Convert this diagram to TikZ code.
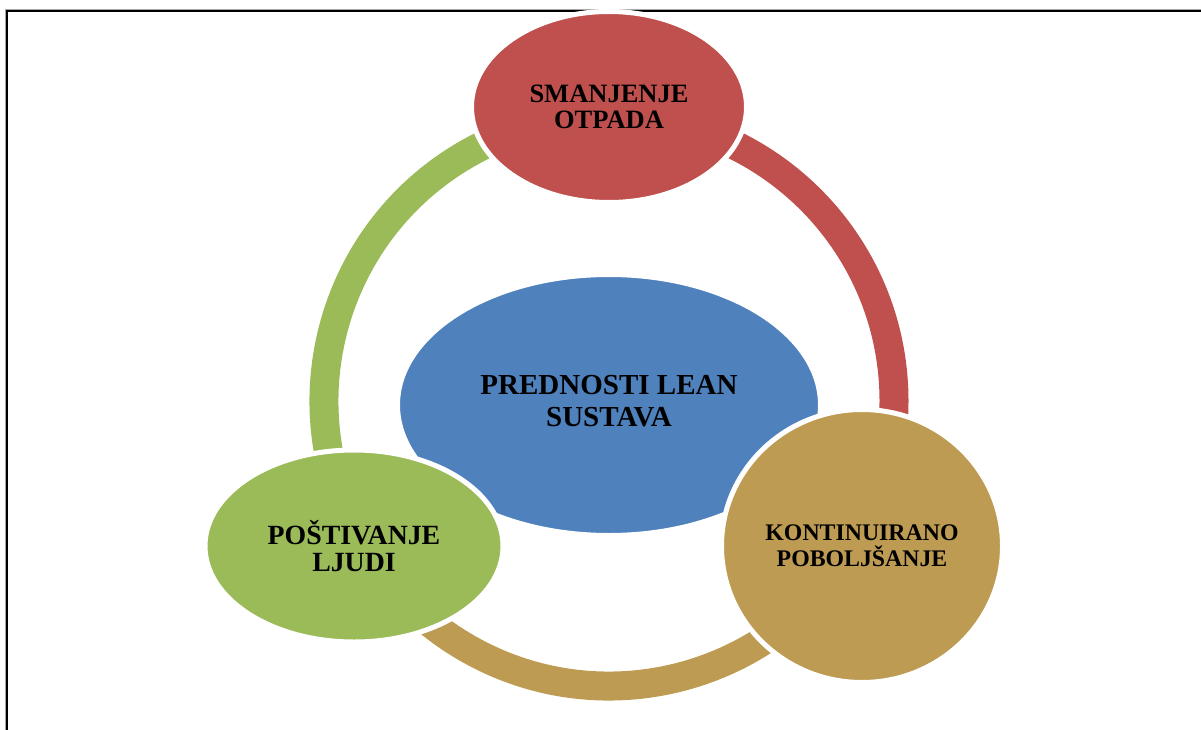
\documentclass[tikz,border=0pt]{standalone}
\usepackage{fontspec}
\setmainfont{Liberation Serif}
\usetikzlibrary{shapes.geometric}
\definecolor{cred}{HTML}{C0504D}
\definecolor{cblue}{HTML}{4F81BD}
\definecolor{ctan}{HTML}{BE9B53}
\definecolor{cgreen}{HTML}{9BBB59}
\begin{document}
\begin{tikzpicture}[x=1pt,y=-1pt,
  bubble/.style={ellipse, draw=white, line width=5pt, inner sep=0pt, align=center},
  ringarc/.style={line width=29pt}]
\useasboundingbox (0,0) rectangle (1201,730);
% frame
\draw[line width=1pt, black!35] (5.5,730) -- (5.5,9.5) -- (1201,9.5);
\draw[line width=1.8pt, black] (7,730) -- (7,11) -- (1201,11);
% ring
\coordinate (c) at (609,401);
\draw[ringarc, cred]   (c) ++(-90:285) arc[start angle=-90, end angle=30,  radius=285];
\draw[ringarc, ctan]   (c) ++(30:285)  arc[start angle=30,  end angle=150, radius=285];
\draw[ringarc, cgreen] (c) ++(150:285) arc[start angle=150, end angle=270, radius=285];
% nodes
\node[bubble, fill=cblue, minimum width=423pt, minimum height=261pt] (center) at (609,405) {};
\node[align=center, inner sep=0pt, font=\fontsize{29}{32}\selectfont\bfseries]
      (centertext) at (609,401) {PREDNOSTI LEAN\\SUSTAVA};
\node[bubble, fill=cred, minimum width=275pt, minimum height=191pt,
      font=\fontsize{26.5}{26}\selectfont\bfseries] (waste) at (609,107)
      {SMANJENJE\\OTPADA};
\node[bubble, fill=ctan, minimum width=281pt, minimum height=273pt,
      font=\fontsize{23.8}{26}\selectfont\bfseries] (impr) at (862,546)
      {KONTINUIRANO\\POBOLJŠANJE};
\node[bubble, fill=cgreen, minimum width=298pt, minimum height=192pt,
      font=\fontsize{27.8}{27}\selectfont\bfseries] (people) at (354,546)
      {POŠTIVANJE\\LJUDI};
\end{tikzpicture}
\end{document}
